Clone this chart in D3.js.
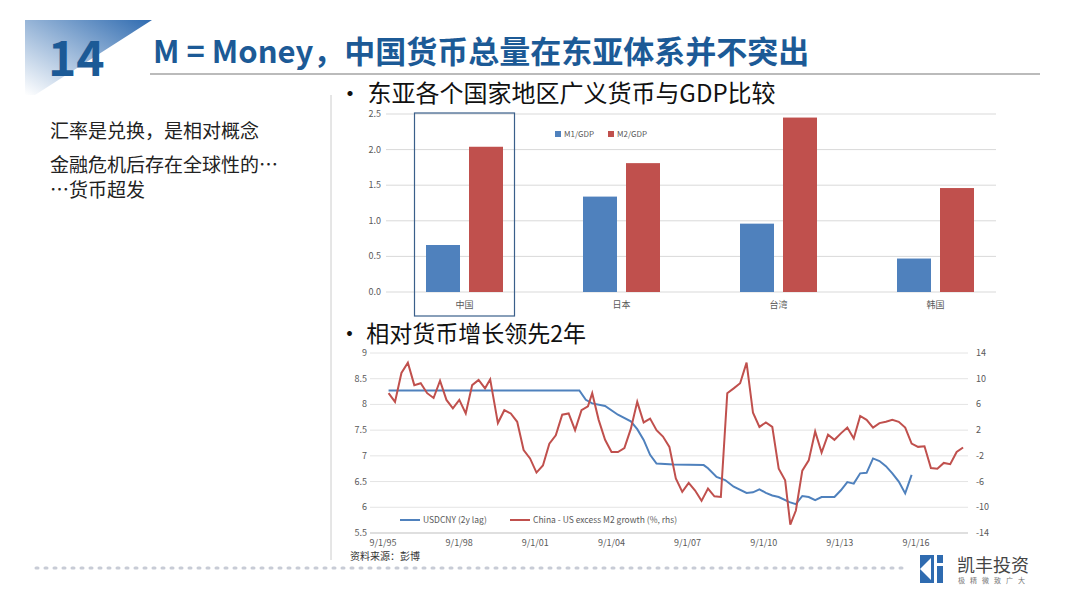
<!DOCTYPE html><html><head><meta charset="utf-8">
<script src="https://cdn.jsdelivr.net/npm/d3@7"></script>
<style>body{margin:0;background:#fff}text{font-family:"Noto Sans CJK SC","Noto Sans",sans-serif}</style></head><body>
<svg id="s" width="1080" height="608"></svg>
<script>
const barCats=["中国","日本","台湾","韩国"];
const m1gdp=[0.66,1.34,0.96,0.47];
const m2gdp=[2.04,1.81,2.45,1.46];
const barTicks=[0,0.5,1,1.5,2,2.5];
const xTickLabels=["9/1/95","9/1/98","9/1/01","9/1/04","9/1/07","9/1/10","9/1/13","9/1/16"];
const redX=[125,140,155,170,185,200,215,230,245,260,275,290,305,320,335,350,362,380,395,410,425,440,455,470,485,500,515,530,545,560,575,590,600,615,630,645,660,675,690,705,720,735,750,765,780,795,810,825,840,855,870,885,900,915,930,945,960,975,990,1005,1020,1035,1050,1062,1075,1090,1105,1120,1135,1150,1165,1180,1195,1210,1225,1240,1255,1270,1285,1300,1315,1330,1345,1360,1375,1390,1405,1420,1435,1450,1465];
const redV=[7.75,6.4,10.9,12.5,9.0,9.3,7.75,7.0,9.7,6.7,5.4,6.7,4.6,9.0,9.8,8.5,9.9,3.1,5.1,4.6,3.3,-1.1,-2.4,-4.6,-3.5,-0.1,1.2,4.4,4.6,2.0,5.1,5.7,7.75,3.6,0.5,-1.4,-1.4,-0.8,2.2,6.4,3.2,3.8,2.0,1.0,-0.6,-5.5,-7.6,-6.2,-7.4,-9.0,-7.1,-8.3,-8.4,7.75,8.5,9.3,12.5,4.7,2.5,3.2,2.5,-4.0,-5.8,-12.7,-10.5,-4.3,-2.7,1.8,-1.5,1.3,0.5,1.5,2.4,0.7,4.2,3.6,2.4,3.1,3.3,3.6,3.3,2.4,-0.1,-0.6,-0.5,-3.9,-4.0,-3.1,-3.3,-1.4,-0.7];
const blueX=[125,570,585,600,630,660,690,705,720,735,750,790,860,870,890,910,930,960,975,990,1005,1020,1035,1060,1075,1090,1105,1120,1135,1165,1180,1195,1210,1225,1240,1255,1270,1285,1300,1315,1330,1345];
const blueV=[8.27,8.27,8.09,8.02,7.97,7.8,7.67,7.52,7.31,7.02,6.85,6.83,6.82,6.76,6.59,6.53,6.40,6.28,6.29,6.35,6.28,6.23,6.20,6.10,6.06,6.22,6.20,6.14,6.20,6.20,6.33,6.49,6.46,6.66,6.67,6.95,6.90,6.80,6.66,6.50,6.27,6.63];
const toYear=x=>1995.667+(x-112)/59.2;
const redData=redX.map((x,i)=>[toYear(x),redV[i]]);
const blueData=blueX.map((x,i)=>[toYear(x),blueV[i]]);
const BLUE="#4f81bd",RED="#c0504d";
const svg=d3.select("#s");
const g0=svg.append("defs").append("linearGradient").attr("id","gr").attr("x1","0").attr("y1","1").attr("x2","1").attr("y2","0");
g0.append("stop").attr("offset","0").attr("stop-color","#fff");
g0.append("stop").attr("offset","1").attr("stop-color","#2f6bb0");
svg.append("path").attr("d","M25,20 L152,20 L35,95 L25,95Z").attr("fill","url(#gr)");
svg.append("text").attr("x",48).attr("y",76).attr("font-size",48).attr("font-weight","bold").attr("fill","#1c5a96").attr("font-family","Open Sans").text("14");
svg.append("text").attr("x",153).attr("y",63).attr("font-size",31).attr("font-weight","bold").attr("fill","#1c5a96").attr("font-family","Open Sans, Noto Sans CJK SC").text("M = Money，中国货币总量在东亚体系并不突出");
svg.append("line").attr("x1",150).attr("x2",1040).attr("y1",74).attr("y2",74).attr("stroke","#bbb").attr("stroke-width",2);
svg.append("line").attr("x1",331).attr("x2",331).attr("y1",95).attr("y2",560).attr("stroke","#ccc");
[["汇率是兑换，是相对概念",138],["金融危机后存在全球性的…",172],["…货币超发",197]].forEach(([t,y])=>svg.append("text").attr("x",50).attr("y",y).attr("font-size",19).attr("fill","#222").text(t));
svg.append("text").attr("x",338).attr("y",102).attr("font-size",24).attr("fill","#111").text("• 东亚各个国家地区广义货币与GDP比较");
svg.append("text").attr("x",338).attr("y",342).attr("font-size",23).attr("fill","#111").text("• 相对货币增长领先2年");
const bx=d3.scaleBand().domain(barCats).range([386,1014]);
const by=d3.scaleLinear().domain([0,2.5]).range([292,114]);
const bc=svg.append("g");
barTicks.forEach(t=>{bc.append("line").attr("x1",386).attr("x2",996).attr("y1",by(t)).attr("y2",by(t)).attr("stroke","#d9d9d9");
bc.append("text").attr("x",381).attr("y",by(t)+3).attr("text-anchor","end").attr("font-size",9).attr("fill","#595959").text(t.toFixed(1));});
const bw=34;
barCats.forEach((c,i)=>{const cx=bx(c)+bx.bandwidth()/2;
bc.append("rect").attr("x",cx-bw-4.5).attr("width",bw).attr("y",by(m1gdp[i])).attr("height",by(0)-by(m1gdp[i])).attr("fill",BLUE);
bc.append("rect").attr("x",cx+4.5).attr("width",bw).attr("y",by(m2gdp[i])).attr("height",by(0)-by(m2gdp[i])).attr("fill",RED);
bc.append("text").attr("x",cx).attr("y",308).attr("text-anchor","middle").attr("font-size",9).attr("fill","#595959").text(c);});
bc.append("rect").attr("x",bx("中国")+bx.bandwidth()/2-50).attr("y",113).attr("width",100).attr("height",203).attr("fill","none").attr("stroke","#3a5f8a").attr("stroke-width",1.2);
[["M1/GDP",BLUE,555],["M2/GDP",RED,608]].forEach(([t,c,x])=>{bc.append("rect").attr("x",x).attr("y",131).attr("width",6).attr("height",6).attr("fill",c);
bc.append("text").attr("x",x+9).attr("y",137).attr("font-size",8).attr("fill","#595959").text(t);});
const lx=d3.scaleLinear().domain([1995.667,2016.667]).range([383,916]);
const ly=d3.scaleLinear().domain([5.5,9]).range([533,353]);
const ry=d3.scaleLinear().domain([-14,14]).range([533,353]);
const lc=svg.append("g");
d3.range(5.5,9.01,0.5).forEach((t,i)=>{const r=-14+i*4;
lc.append("line").attr("x1",370).attr("x2",968).attr("y1",ly(t)).attr("y2",ly(t)).attr("stroke",t===5.5?"#bfbfbf":"#e4e4e4");
lc.append("text").attr("x",367).attr("y",ly(t)+3).attr("text-anchor","end").attr("font-size",9).attr("fill","#595959").text(t);
lc.append("text").attr("x",976).attr("y",ry(r)+3).attr("font-size",9).attr("fill","#595959").text(r);});
xTickLabels.forEach((t,i)=>lc.append("text").attr("x",lx(1995.667+3*i)).attr("y",546).attr("text-anchor","middle").attr("font-size",9).attr("fill","#595959").text(t));
lc.append("path").datum(blueData).attr("d",d3.line().x(d=>lx(d[0])).y(d=>ly(d[1]))).attr("fill","none").attr("stroke",BLUE).attr("stroke-width",2);
lc.append("path").datum(redData).attr("d",d3.line().x(d=>lx(d[0])).y(d=>ry(d[1]))).attr("fill","none").attr("stroke",RED).attr("stroke-width",2);
[["USDCNY (2y lag)",BLUE,400],["China - US excess M2 growth (%, rhs)",RED,510]].forEach(([t,c,x])=>{lc.append("line").attr("x1",x).attr("x2",x+20).attr("y1",520).attr("y2",520).attr("stroke",c).attr("stroke-width",2);
lc.append("text").attr("x",x+23).attr("y",523).attr("font-size",8.5).attr("fill","#595959").text(t);});
svg.append("text").attr("x",350).attr("y",560).attr("font-size",10).attr("fill","#333").text("资料来源：彭博");
svg.append("line").attr("x1",36).attr("x2",905).attr("y1",568).attr("y2",568).attr("stroke","#c8ccd6").attr("stroke-width",3).attr("stroke-dasharray","2,7").attr("stroke-linecap","round");
svg.append("rect").attr("x",920).attr("y",555).attr("width",23).attr("height",28).attr("fill","#2f6bb0");
svg.append("path").attr("d","M920,569 L931,558 L931,580Z").attr("fill","#fff");
svg.append("rect").attr("x",934).attr("y",555).attr("width",3).attr("height",28).attr("fill","#fff");
svg.append("rect").attr("x",937).attr("y",563).attr("width",6).attr("height",3).attr("fill","#fff");
svg.append("text").attr("x",957).attr("y",572).attr("font-size",18).attr("fill","#444").text("凯丰投资");
svg.append("text").attr("x",958).attr("y",583).attr("font-size",7).attr("fill","#777").attr("letter-spacing",5).text("极精微致广大");
</script></body></html>
